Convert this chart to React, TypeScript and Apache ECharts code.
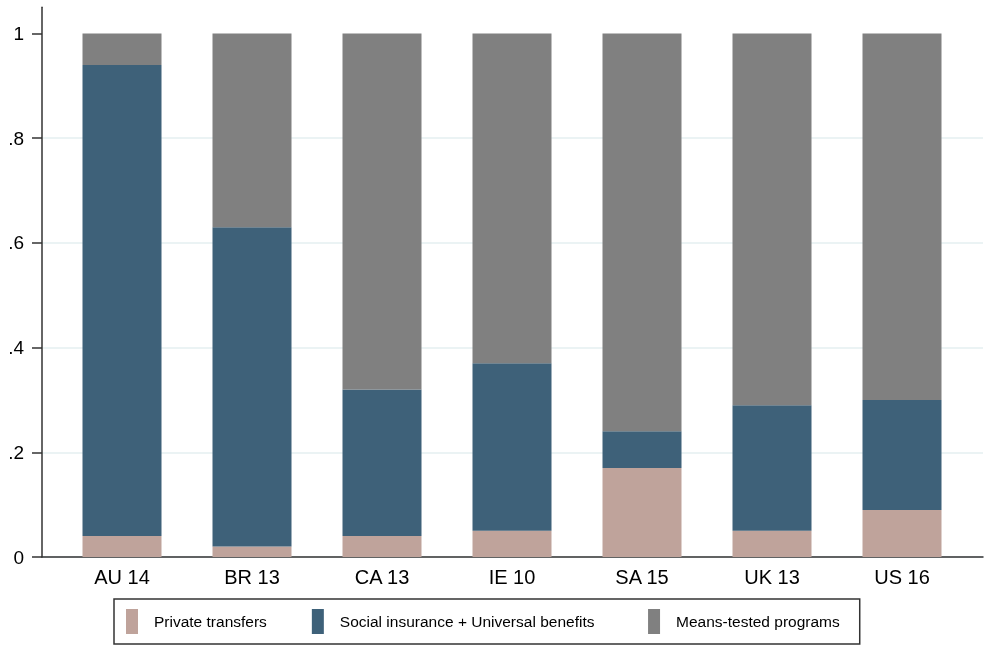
import React, { useEffect, useRef } from "react";
import * as echarts from "echarts";

const categories = ["AU 14", "BR 13", "CA 13", "IE 10", "SA 15", "UK 13", "US 16"];
const privateTransfers = [0.04, 0.02, 0.04, 0.05, 0.17, 0.05, 0.09];
const socialInsurance = [0.9, 0.61, 0.28, 0.32, 0.07, 0.24, 0.21];
const meansTested = [0.06, 0.37, 0.68, 0.63, 0.76, 0.71, 0.7];
const yTicks = [0, 0.2, 0.4, 0.6, 0.8, 1];
const seriesNames = ["Private transfers", "Social insurance + Universal benefits", "Means-tested programs"];
const colors = ["#BFA39B", "#3E6179", "#808080"];

const fmt = (v: number) => (v === 0 ? "0" : v === 1 ? "1" : String(v).replace(/^0/, ""));

export default function App() {
  const ref = useRef<HTMLDivElement>(null);
  useEffect(() => {
    if (!ref.current) return;
    const chart = echarts.init(ref.current, null, { renderer: "svg" });
    const font = "'Liberation Sans', Arial, Helvetica, sans-serif";
    const top = 7.3;
    const bottom = 92;
    const yMax = 1.05;
    chart.setOption({
      animation: false,
      textStyle: { fontFamily: font },
      grid: [
        { left: 42, right: 7, top, bottom },
        { left: 57, right: 23, top, bottom },
      ],
      xAxis: [
        {
          type: "value",
          gridIndex: 0,
          min: 0,
          max: 1,
          axisLine: { show: true, lineStyle: { color: "#333", width: 1.5 } },
          axisTick: { show: false },
          axisLabel: { show: false },
          splitLine: { show: false },
        },
        {
          type: "category",
          gridIndex: 1,
          data: categories,
          axisLine: { show: false },
          axisTick: { show: false },
          axisLabel: { color: "#000", fontSize: 20, margin: 10, fontFamily: font },
        },
      ],
      yAxis: [
        {
          type: "value",
          gridIndex: 0,
          min: 0,
          max: yMax,
          interval: 0.2,
          axisLine: { show: true, onZero: false, lineStyle: { color: "#333", width: 1.5 } },
          axisTick: { show: true, inside: false, length: 10, customValues: yTicks, lineStyle: { color: "#333", width: 1.5 } },
          axisLabel: {
            color: "#000",
            fontSize: 19,
            margin: 18,
            customValues: yTicks,
            formatter: (v: number) => fmt(Math.round(v * 10) / 10),
            fontFamily: font,
          },
          splitLine: { show: true, showMaxLine: false, lineStyle: { color: "#E4EFF1", width: 1.5 } },
        },
        {
          type: "value",
          gridIndex: 1,
          min: 0,
          max: yMax,
          show: false,
          splitLine: { show: false },
        },
      ],
      legend: {
        left: 114,
        top: 599,
        orient: "horizontal",
        padding: [10, 20, 10, 12],
        itemWidth: 12,
        itemHeight: 25,
        itemGap: 45,
        borderColor: "#333",
        borderWidth: 1.5,
        icon: "rect",
        data: seriesNames,
        formatter: (name: string) => (name === seriesNames[1] ? name + "\u00a0\u00a0" : name),
        textStyle: { color: "#000", fontSize: 15.5, fontFamily: font, padding: [0, 0, 0, 11] },
      },
      series: [privateTransfers, socialInsurance, meansTested].map((d, i) => ({
        name: seriesNames[i],
        type: "bar",
        stack: "total",
        xAxisIndex: 1,
        yAxisIndex: 1,
        barWidth: 79,
        data: d,
        itemStyle: { color: colors[i] },
      })),
    });
    return () => chart.dispose();
  }, []);
  return <div ref={ref} style={{ position: "fixed", left: 0, top: 0, width: 990, height: 649 }} />;
}
